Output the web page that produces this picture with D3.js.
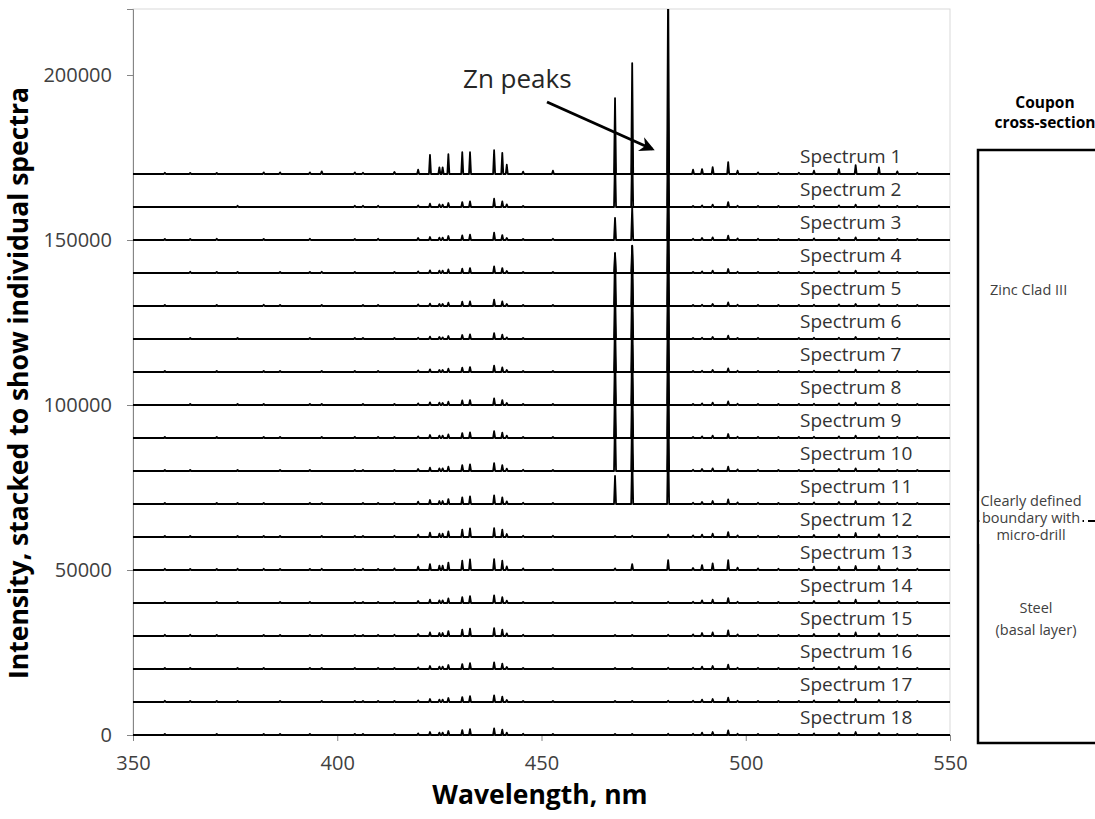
<!DOCTYPE html>
<html>
<head>
<meta charset="utf-8">
<script src="https://cdn.jsdelivr.net/npm/d3@7"></script>
<style>
  body { margin: 0; background: #fff; }
  text { font-family: "Open Sans", sans-serif; }
</style>
</head>
<body>
<div id="chart"></div>
<script>
// Stacked LIBS spectra, Zn clad coupon -> steel

// Emission lines (nm)
var lineWl = [357.8, 364.0, 370.5, 375.6, 382.0, 386.0, 393.3, 396.2, 404.3, 406.3, 410.0,
  414.0, 419.8, 422.7, 425.0, 425.8, 427.2, 430.6, 432.5, 438.4, 440.4, 441.5, 445.5, 452.8,
  468.0, 472.2, 481.0, 487.1, 489.3, 491.9, 495.7, 498.0, 503.0, 508.0, 513.0, 516.7, 522.8,
  526.9, 532.6, 537.1, 542.0]

// Peak height above each spectrum's own baseline, one row per spectrum (1..18)
var peakHeights = [
  [400,300,300,0,500,500,500,800,500,400,0,600,1300,5800,2000,2000,6000,6600,6600,7200,6400,2800,700,1000,23000,33600,60000,1300,1500,2100,3600,1000,500,400,400,1000,1500,2700,2000,800,400],
  [0,0,0,400,0,0,0,0,400,400,400,0,500,1000,800,700,1200,1500,1700,2500,1700,800,300,0,15000,18000,30000,300,500,700,1500,400,300,300,300,400,500,700,500,300,300],
  [300,300,400,0,300,0,400,0,300,0,400,0,600,900,700,700,1200,1400,1600,2200,1500,600,300,400,6700,10000,25000,400,600,800,1300,500,400,300,300,500,600,800,600,300,300],
  [0,400,300,300,0,300,300,400,300,0,0,300,500,800,700,700,1100,1300,1500,2000,1500,600,300,300,6000,8300,25000,300,500,700,1200,400,300,300,300,400,500,700,500,300,300],
  [300,0,300,0,400,300,0,300,0,300,300,0,500,700,600,600,1000,1300,1400,1900,1400,600,300,300,16000,18200,25000,300,400,600,1100,400,300,300,300,400,500,600,500,300,300],
  [0,300,0,300,0,0,300,0,300,300,0,300,400,700,600,500,900,1200,1400,1800,1300,500,300,0,16000,18200,25000,300,400,600,1000,300,300,0,300,400,400,600,400,300,0],
  [300,0,300,0,300,300,0,300,300,0,300,0,500,800,600,600,1000,1300,1500,1900,1400,600,300,300,16000,18200,25000,300,400,600,1100,400,300,300,300,400,500,700,500,300,300],
  [0,300,0,300,300,0,300,300,0,300,0,300,500,800,700,600,1000,1400,1500,2000,1500,600,300,300,16000,18200,25000,300,500,700,1100,400,300,300,300,400,500,700,500,300,300],
  [300,0,300,0,300,300,0,300,300,0,300,300,500,900,700,700,1100,1500,1700,2100,1600,700,300,300,16000,18200,25000,300,500,700,1200,400,300,300,300,400,500,700,500,300,300],
  [300,300,0,300,0,300,300,0,300,300,0,300,600,1000,800,800,1300,1800,2000,2400,1800,700,400,300,16000,18200,25000,400,600,800,1300,500,400,300,300,500,600,800,600,300,300],
  [300,0,300,300,300,0,300,300,0,300,300,400,700,1200,900,900,1500,2000,2300,2600,2000,800,400,300,8500,15000,20000,400,600,900,1400,500,400,300,300,500,600,900,600,400,300],
  [300,300,0,300,300,300,0,300,300,300,0,400,700,1300,1000,1000,1700,2200,2600,2700,2200,900,400,400,300,400,700,500,700,1000,1500,500,400,300,300,600,700,1200,800,400,300],
  [400,300,300,400,400,300,300,400,300,400,300,500,1000,1800,1300,1300,2200,2800,3200,3300,2800,1100,500,400,500,1800,3000,600,1500,2000,3000,700,500,400,400,1000,1000,1200,1200,500,400],
  [300,0,300,300,0,300,300,0,300,300,300,300,600,1000,800,800,1400,1800,2100,2300,1800,700,300,300,300,300,400,400,800,1000,1500,400,300,300,300,600,600,1000,700,300,300],
  [400,400,300,0,300,300,300,300,300,300,300,400,600,1100,900,900,1500,1900,2200,2400,1900,800,400,300,300,300,400,500,900,1100,1700,500,400,300,300,600,700,1100,800,400,300],
  [300,300,0,300,300,0,300,300,300,0,300,300,500,900,700,700,1200,1500,1800,2000,1600,600,300,300,300,300,400,400,700,900,1300,400,300,300,300,500,600,900,600,300,300],
  [400,300,300,300,0,300,0,300,300,300,300,300,500,900,700,700,1200,1500,1800,2000,1600,600,300,300,300,300,400,400,700,900,1300,400,300,300,300,500,600,900,600,300,300],
  [300,0,300,0,300,300,300,0,300,300,0,300,500,900,700,700,1200,1500,1800,2000,1600,700,400,300,300,300,400,400,700,900,1400,400,300,300,300,500,600,900,600,300,300]
]

var spectrumNames = peakHeights.map(function(d, i){ return "Spectrum " + (i + 1) })
var baselines = [170000,160000,150000,140000,130000,120000,110000,100000,90000,80000,70000,60000,50000,40000,30000,20000,10000,0]

var xTicks = [350, 400, 450, 500, 550]
var yTicks = [0, 50000, 100000, 150000, 200000]

var wlRange = [350, 550]
var intensityRange = [0, 220000]

// Svg

var width = 1095,
    height = 819

var margin = { top: 9, right: 145, bottom: 84, left: 133 }
var plotW = width - margin.left - margin.right,
    plotH = height - margin.top - margin.bottom

var svg = d3.select("#chart").append("svg")
    .attr("width", width)
    .attr("height", height)

var g = svg.append("g")
    .attr("transform", "translate(" + margin.left + "," + margin.top + ")")

// Scales

var xScale = d3.scaleLinear()
  .domain(wlRange)
  .range([0, plotW])

var yScale = d3.scaleLinear()
  .domain(intensityRange)
  .range([plotH, 0])

// Frame

g.append("rect")
  .attr("width", plotW)
  .attr("height", plotH)
  .attr("fill", "none")
  .attr("stroke", "#d9d9d9")
  .attr("stroke-width", 1)

g.append("clipPath")
  .attr("id", "plot-clip")
  .append("rect")
  .attr("x", -1)
  .attr("y", 0)
  .attr("width", plotW + 2)
  .attr("height", plotH + 4)

// Axes

var yAxis = d3.axisLeft(yScale)
  .tickValues(yTicks)
  .tickFormat(d3.format("d"))
  .tickSize(6)
  .tickPadding(15)

var xAxis = d3.axisBottom(xScale)
  .tickValues(xTicks)
  .tickSize(6)
  .tickPadding(15)

g.append("g")
  .attr("class", "axis")
  .call(yAxis)

g.append("g")
  .attr("class", "axis")
  .attr("transform", "translate(0," + plotH + ")")
  .call(xAxis)

g.selectAll(".axis path, .axis line")
  .attr("stroke", "#868686")
g.selectAll(".axis text")
  .attr("font-family", "Open Sans")
  .attr("font-size", 20)
  .attr("fill", "#404040")

// Spectra

var halfWidth = 0.25

function spectrumPoints(row) {
  var pts = [[wlRange[0], 0]]
  lineWl.forEach(function(wl, j){
    if (row[j] > 0) {
      pts.push([wl - halfWidth, 0])
      pts.push([wl, row[j]])
      pts.push([wl + halfWidth, 0])
    }
  })
  pts.push([wlRange[1], 0])
  return pts
}

var spectra = peakHeights.map(function(row, i){
  return { name: spectrumNames[i], base: baselines[i], points: spectrumPoints(row) }
})

var plot = g.append("g")
  .attr("clip-path", "url(#plot-clip)")

plot.selectAll(".spectrum")
  .data(spectra)
  .enter().append("path")
  .attr("class", "spectrum")
  .attr("fill", "none")
  .attr("stroke", "#000")
  .attr("stroke-width", 1.8)
  .attr("stroke-linejoin", "round")
  .attr("d", function(s){
    return d3.line()
      .x(function(p){ return xScale(p[0]) })
      .y(function(p){ return yScale(s.base + p[1]) })(s.points)
  })

// labels start at x = 800 px on the page
g.selectAll(".spec-label")
  .data(spectra)
  .enter().append("text")
  .attr("class", "spec-label")
  .attr("x", 800 - margin.left)
  .attr("y", function(s){ return yScale(s.base) - 11 })
  .attr("font-size", 19)
  .attr("fill", "#333")
  .text(function(s){ return s.name })

// Zn annotation

svg.append("defs").append("marker")
  .attr("id", "arrow")
  .attr("viewBox", "0 0 10 10")
  .attr("refX", 8)
  .attr("refY", 5)
  .attr("markerWidth", 5)
  .attr("markerHeight", 5)
  .attr("orient", "auto")
  .append("path")
  .attr("d", "M0,0 L10,5 L0,10 L3,5 Z")
  .attr("fill", "#000")

svg.append("text")
  .attr("x", 463)
  .attr("y", 88)
  .attr("font-size", 26)
  .attr("fill", "#262626")
  .text("Zn peaks")

svg.append("line")
  .attr("x1", 547)
  .attr("y1", 102)
  .attr("x2", 652)
  .attr("y2", 149)
  .attr("stroke", "#000")
  .attr("stroke-width", 3)
  .attr("marker-end", "url(#arrow)")

// Titles

svg.append("text")
  .attr("transform", "translate(28,383) rotate(-90)")
  .attr("text-anchor", "middle")
  .attr("font-size", 26.5)
  .attr("font-weight", "bold")
  .attr("fill", "#000")
  .text("Intensity, stacked to show individual spectra")

svg.append("text")
  .attr("x", 540)
  .attr("y", 804)
  .attr("text-anchor", "middle")
  .attr("font-size", 26.5)
  .attr("font-weight", "bold")
  .attr("fill", "#000")
  .text("Wavelength, nm")

// Coupon cross-section panel

var panel = svg.append("g")

panel.append("text")
  .attr("x", 1045)
  .attr("y", 108)
  .attr("text-anchor", "middle")
  .attr("font-size", 15.5)
  .attr("font-weight", "bold")
  .attr("fill", "#000")
  .text("Coupon")

panel.append("text")
  .attr("x", 1045)
  .attr("y", 128)
  .attr("text-anchor", "middle")
  .attr("font-size", 15.5)
  .attr("font-weight", "bold")
  .attr("fill", "#000")
  .text("cross-section")

panel.append("rect")
  .attr("x", 978)
  .attr("y", 150)
  .attr("width", 200)
  .attr("height", 593)
  .attr("fill", "none")
  .attr("stroke", "#000")
  .attr("stroke-width", 2.5)

panel.append("line")
  .attr("x1", 978)
  .attr("x2", 1095)
  .attr("y1", 521)
  .attr("y2", 521)
  .attr("stroke", "#000")
  .attr("stroke-width", 2)
  .attr("stroke-dasharray", "7,4")

panel.append("text")
  .attr("x", 990)
  .attr("y", 295)
  .attr("font-size", 14.5)
  .attr("fill", "#404040")
  .text("Zinc Clad III")

var boundary = ["Clearly defined", "boundary with", "micro-drill"]

var bText = panel.append("text")
  .attr("text-anchor", "middle")
  .attr("font-size", 14.5)
  .attr("fill", "#404040")

bText.selectAll("tspan")
  .data(boundary)
  .enter().append("tspan")
  .attr("x", 1031)
  .attr("y", function(d, i){ return 506 + i * 17 })
  .text(function(d){ return d })

var bb = bText.node().getBBox()
panel.insert("rect", "text:last-child")
  .attr("x", bb.x - 1)
  .attr("y", bb.y)
  .attr("width", bb.width + 2)
  .attr("height", bb.height)
  .attr("fill", "#fff")

var steel = ["Steel", "(basal layer)"]

panel.append("text")
  .attr("text-anchor", "middle")
  .attr("font-size", 14.5)
  .attr("fill", "#404040")
  .selectAll("tspan")
  .data(steel)
  .enter().append("tspan")
  .attr("x", 1036)
  .attr("y", function(d, i){ return 613 + i * 22 })
  .text(function(d){ return d })
</script>
</body>
</html>
